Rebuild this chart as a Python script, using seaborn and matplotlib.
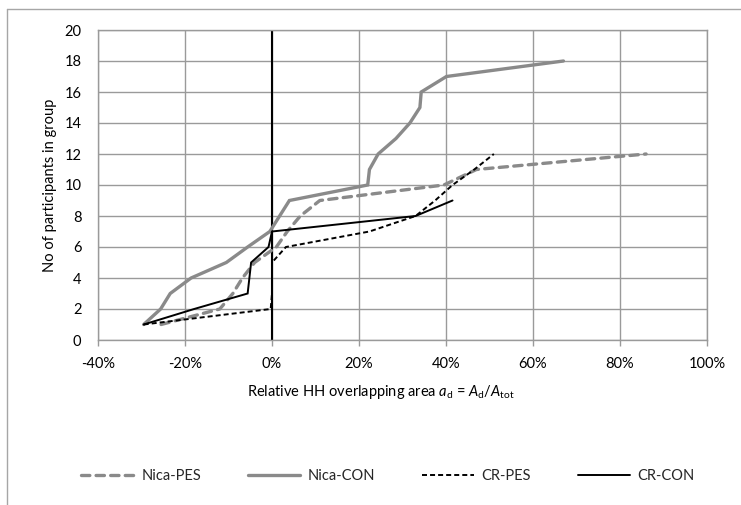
import numpy as np
import pandas as pd
import seaborn as sns
import matplotlib
matplotlib.use("Agg")
import matplotlib.pyplot as plt
from matplotlib.lines import Line2D

# relative overlapping area (%) and cumulative number of participants
nica_pes_x = [-25.5, -12, -9, -6.8, -4, 1, 3.5, 6.5, 11, 39.5, 47, 86]
nica_pes_y = [1, 2, 3, 4, 5, 6, 7, 8, 9, 10, 11, 12]

nica_con_x = [-29.5, -25.6, -23.4, -18.6, -10.5, -5.6, -0.5, 4, 22, 22.4, 24.4, 28.5, 31.7, 34, 34.3, 40.1, 67]
nica_con_y = [1, 2, 3, 4, 5, 6, 7, 9, 10, 11, 12, 13, 14, 15, 16, 17, 18]

cr_pes_x = [-29.5, -0.3, 0, 0, 0, 3.2, 22.4, 33, 37.5, 41.5, 46.5, 51]
cr_pes_y = [1, 2, 3, 4, 5, 6, 7, 8, 9, 10, 11, 12]

cr_con_x = [-29.5, -17.9, -5.6, -5.2, -4.8, -0.8, 0, 33, 41.5]
cr_con_y = [1, 2, 3, 4, 5, 6, 7, 8, 9]

x_ticks = [-40, -20, 0, 20, 40, 60, 80, 100]
y_ticks = list(range(0, 21, 2))

sns.set_theme(style="white")
plt.rcParams['font.family'] = ['Lato', 'DejaVu Sans']
plt.rcParams['mathtext.fontset'] = 'custom'
plt.rcParams['mathtext.rm'] = 'Lato'
plt.rcParams['mathtext.it'] = 'Lato:italic'
plt.rcParams['lines.scale_dashes'] = False

GRAY = '#8a8a8a'
GRID = '#9a9a9a'

fig = plt.figure(figsize=(7.41, 5.05), dpi=100)
ax = fig.add_axes([98 / 741, 1 - 340 / 505, 609 / 741, 310 / 505])

series = [
    ("Nica-PES", nica_pes_x, nica_pes_y, GRAY, 2.4, (6.0, 4.5), 'round'),
    ("Nica-CON", nica_con_x, nica_con_y, GRAY, 2.4, None, 'round'),
    ("CR-PES", cr_pes_x, cr_pes_y, 'black', 1.4, (3.6, 2.2), 'butt'),
    ("CR-CON", cr_con_x, cr_con_y, 'black', 1.4, None, 'round'),
]

# zero line (vertical axis crossing)
ax.axvline(0, color='black', lw=1.5, zorder=2)

handles = []
for name, xs, ys, col, lw, dash, cap in series:
    df = pd.DataFrame({'x': xs, 'y': ys})
    sns.lineplot(data=df, x='x', y='y', ax=ax, color=col, lw=lw,
                 sort=False, estimator=None, zorder=3)
    ln = ax.lines[-1]
    if dash is not None:
        ln.set_dashes(dash)
        ln.set_dash_capstyle(cap)
    ln.set_solid_joinstyle('miter')
    h = Line2D([], [], color=col, lw=lw)
    if dash is not None:
        h.set_dashes(dash)
        h.set_dash_capstyle(cap)
    handles.append((h, name))

ax.set_xlim(-40, 100)
ax.set_ylim(0, 20)
ax.set_xticks(x_ticks)
ax.set_xticklabels([f"{t}%" for t in x_ticks])
ax.set_yticks(y_ticks)
ax.grid(True, color=GRID, lw=1.0)
ax.set_axisbelow(True)
for s in ax.spines.values():
    s.set_color(GRID)
    s.set_linewidth(1.0)

ax.tick_params(axis='x', which='both', length=4, width=1, color=GRID,
               direction='out', pad=8, labelsize=10.5, labelcolor='black', bottom=True)
ax.tick_params(axis='y', length=0, pad=12, labelsize=10.5, labelcolor='black')

ax.set_xlabel(r"Relative HH overlapping area $a_\mathrm{d}$ = $A_\mathrm{d}/A_\mathrm{tot}$",
              fontsize=10.5, color='black')
ax.xaxis.set_label_coords((381 - 98) / 609, -(392 - 340) / 310)
ax.xaxis.label.set_va('center')
ax.set_ylabel("No of participants in group", fontsize=10.5, color='black')
ax.yaxis.set_label_coords(-(98 - 50) / 609, 0.5)
ax.yaxis.label.set_va('center')

fig.legend([h for h, _ in handles], [n for _, n in handles], loc='center',
           bbox_to_anchor=(388 / 741, 1 - 476 / 505), ncol=4, frameon=False,
           fontsize=10.5, handlelength=3.6, columnspacing=3.2, handletextpad=0.5)

# outer chart border (cropped on right and bottom)
fig.add_artist(Line2D([7 / 741, 1], [1 - 9 / 505, 1 - 9 / 505], color='#a6a6a6', lw=1.0))
fig.add_artist(Line2D([7 / 741, 7 / 741], [0, 1 - 9 / 505], color='#a6a6a6', lw=1.0))

fig.savefig("out.png", dpi=100)
